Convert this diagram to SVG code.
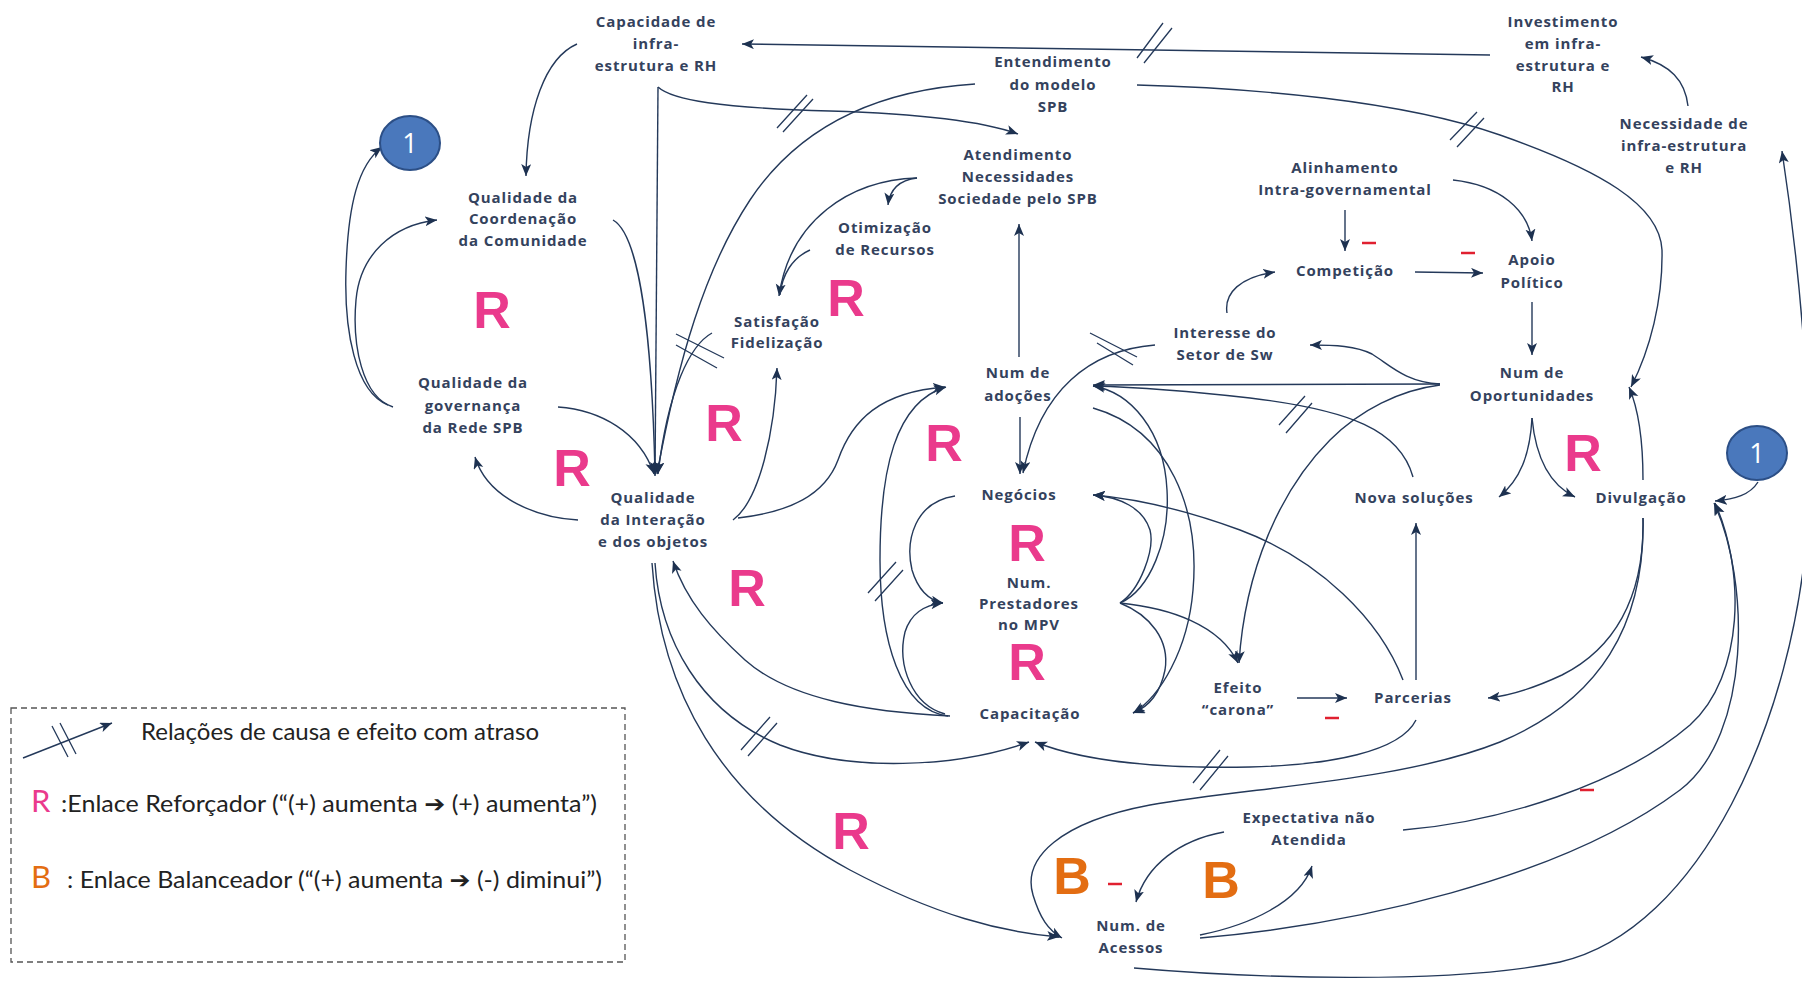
<svg xmlns="http://www.w3.org/2000/svg" width="1802" height="981" viewBox="0 0 1802 981">
<defs>
<marker id="ah" markerWidth="13" markerHeight="11" refX="12" refY="5" orient="auto" markerUnits="userSpaceOnUse">
<path d="M0,0 L12,5 L0,10 L3,5 z" fill="#1d3150"/>
</marker>
<style>
.t{font-family:"Open Sans","DejaVu Sans",sans-serif;font-weight:700;font-size:15px;letter-spacing:0.9px;fill:#34425d;text-anchor:middle}
.c{fill:none;stroke:#24395a;stroke-width:1.4}
.a{marker-end:url(#ah)}
.d{fill:none;stroke:#24395a;stroke-width:1.3}
.R{font-family:"Liberation Sans",Arial,sans-serif;font-weight:bold;font-size:52px;fill:#ea3a8c;text-anchor:middle}
.B{font-family:"Liberation Sans",Arial,sans-serif;font-weight:bold;font-size:52px;fill:#e36d12;text-anchor:middle}
.m{stroke:#e02030;stroke-width:2.5}
.lg{font-family:Lato,"Liberation Sans","DejaVu Sans",sans-serif;font-size:23px;fill:#222}
.one{fill:#4a78bc;stroke:#2c4f86;stroke-width:2}
.onet{font-family:"Open Sans",sans-serif;font-size:27px;fill:#fff;text-anchor:middle}
</style>
</defs>
<rect width="1802" height="981" fill="#fff"/>

<g id="connectors">
<path class="c a" d="M1490,55 L742,44"/>
<path class="c a" d="M577,44 C545,58 527,110 526,176"/>
<path class="c a" d="M658,87 L655,476"/>
<path class="c a" d="M658,87 C672,100 720,108 830,111 C930,114 985,122 1018,134"/>
<path class="c a" d="M975,84 C880,90 800,125 750,200 C705,268 678,360 657,474"/>
<path class="c a" d="M613,220 C640,235 652,340 655,474"/>
<path class="c a" d="M712,333 C690,345 668,390 658,474"/>
<path class="c a" d="M558,407 C600,410 640,432 654,474"/>
<path class="c a" d="M578,520 C540,518 488,500 475,457"/>
<path class="c a" d="M393,407 C362,397 352,345 356,300 C360,255 392,225 437,220"/>
<path class="c a" d="M388,405 C355,392 344,330 346,270 C348,205 358,165 382,147"/>
<path class="c a" d="M733,520 C760,500 775,430 777,368"/>
<path class="c a" d="M738,518 C790,512 825,495 838,460 C852,420 880,392 945,387"/>
<path class="c a" d="M917,178 C850,180 790,220 779,296"/>
<path class="c" d="M810,250 C792,258 782,275 780,295"/>
<path class="c a" d="M917,178 C900,180 890,188 888,205"/>
<path class="c a" d="M1019,357 L1019,224"/>
<path class="c a" d="M1020,417 L1020,474"/>
<path class="c a" d="M1155,345 C1090,350 1040,390 1023,473"/>
<path class="c a" d="M1227,313 C1224,293 1240,277 1275,272"/>
<path class="c a" d="M1345,210 L1345,251"/>
<path class="c a" d="M1453,180 C1500,185 1528,210 1532,241"/>
<path class="c a" d="M1415,272 L1483,273"/>
<path class="c a" d="M1532,302 L1532,355"/>
<path class="c a" d="M1440,384 L1093,385"/>
<path class="c a" d="M1440,384 C1405,382 1390,365 1372,354 C1356,346 1335,345 1310,345"/>
<path class="c a" d="M1532,418 C1530,455 1520,480 1499,497"/>
<path class="c a" d="M1532,418 C1536,460 1550,485 1575,497"/>
<path class="c a" d="M1643,480 C1643,440 1638,408 1629,387"/>
<path class="c a" d="M1137,85 C1250,88 1400,100 1500,135 C1600,170 1660,205 1662,250 C1663,300 1650,350 1631,387"/>
<path class="c a" d="M1688,106 C1685,80 1670,65 1641,57"/>
<path class="c a" d="M1134,968 C1250,978 1450,985 1560,962 C1700,930 1795,720 1808,520 C1813,400 1797,250 1782,151"/>
<path class="c a" d="M1200,938 C1350,925 1560,880 1680,790 C1752,735 1750,580 1714,503"/>
<path class="c a" d="M1403,830 C1500,822 1620,785 1690,725 C1745,675 1745,570 1715,503"/>
<path class="c a" d="M1758,482 C1750,495 1735,499 1715,501"/>
<path class="c a" d="M1643,518 C1645,600 1612,650 1562,675 C1530,690 1507,696 1488,698"/>
<path class="c a" d="M1643,518 C1645,625 1600,700 1500,742 C1400,782 1250,787 1150,805 C1060,822 1022,858 1033,895 C1040,918 1048,930 1062,938"/>
<path class="c a" d="M1416,720 C1400,752 1330,765 1250,767 C1150,769 1080,760 1035,742"/>
<path class="c a" d="M655,563 C660,640 700,712 780,745 C850,772 955,768 1029,742"/>
<path class="c a" d="M950,716 C870,712 790,700 745,660 C712,630 686,600 673,561"/>
<path class="c a" d="M652,563 C660,690 720,800 850,870 C935,915 1000,932 1059,937"/>
<path class="c a" d="M1200,935 C1250,925 1300,902 1312,866"/>
<path class="c a" d="M1224,832 C1180,840 1146,865 1136,902"/>
<path class="c a" d="M955,496 C915,502 905,540 912,570 C918,590 928,600 943,603"/>
<path class="c a" d="M945,714 C912,705 897,665 905,632 C911,613 924,605 943,603"/>
<path class="c a" d="M948,716 C900,710 880,640 880,560 C880,470 895,402 946,387"/>
<path class="c a" d="M1120,603 C1150,590 1170,540 1167,490 C1164,430 1130,392 1093,386"/>
<path class="c a" d="M1120,603 C1140,590 1155,550 1150,530 C1143,508 1120,497 1093,495"/>
<path class="c a" d="M1120,603 C1150,615 1170,640 1165,670 C1160,695 1148,707 1133,713"/>
<path class="c a" d="M1120,603 C1170,608 1220,625 1238,663"/>
<path class="c a" d="M1093,408 C1170,430 1200,510 1193,590 C1188,650 1160,697 1133,713"/>
<path class="c a" d="M1440,385 C1400,390 1360,410 1330,440 C1280,490 1245,570 1239,663"/>
<path class="c a" d="M1403,680 C1380,620 1320,560 1240,530 C1180,508 1130,498 1093,495"/>
<path class="c a" d="M1413,477 C1400,430 1350,410 1250,398 C1180,390 1130,387 1093,386"/>
<path class="c a" d="M1297,698 L1347,698"/>
<path class="c a" d="M1416,680 L1416,523"/>
</g>

<g id="delays">
<path class="d" d="M1137,58 L1163,23 M1144,63 L1172,28"/>
<path class="d" d="M777,128 L807,95 M783,132 L813,99"/>
<path class="d" d="M676,334 L724,358 M676,345 L717,368"/>
<path class="d" d="M1450,140 L1477,112 M1457,147 L1484,118"/>
<path class="d" d="M1090,333 L1137,357 M1097,343 L1133,365"/>
<path class="d" d="M1279,425 L1305,396 M1286,433 L1312,403"/>
<path class="d" d="M868,593 L896,562 M875,601 L903,570"/>
<path class="d" d="M741,750 L770,717 M748,756 L777,723"/>
<path class="d" d="M1193,783 L1220,750 M1200,790 L1228,756"/>
</g>

<g id="minus">
<line class="m" x1="1362" y1="243" x2="1376" y2="243"/>
<line class="m" x1="1461" y1="253" x2="1475" y2="253"/>
<line class="m" x1="1325" y1="718" x2="1339" y2="718"/>
<line class="m" x1="1580" y1="790" x2="1594" y2="790"/>
<line class="m" x1="1108" y1="884" x2="1122" y2="884"/>
</g>

<g id="loops">
<text class="R" x="492" y="328">R</text>
<text class="R" x="846" y="316">R</text>
<text class="R" x="724" y="441">R</text>
<text class="R" x="572" y="486">R</text>
<text class="R" x="944" y="461">R</text>
<text class="R" x="1027" y="561">R</text>
<text class="R" x="1583" y="471">R</text>
<text class="R" x="747" y="606">R</text>
<text class="R" x="1027" y="680">R</text>
<text class="R" x="851" y="849">R</text>
<text class="B" x="1072" y="894">B</text>
<text class="B" x="1221" y="898">B</text>
</g>

<g id="n-cap"><text class="t"><tspan x="656" y="27">Capacidade de</tspan><tspan x="656" y="49">infra-</tspan><tspan x="656" y="71">estrutura e RH</tspan></text></g>
<g id="n-ent"><text class="t"><tspan x="1053" y="67">Entendimento</tspan><tspan x="1053" y="90">do modelo</tspan><tspan x="1053" y="112">SPB</tspan></text></g>
<g id="n-inv"><text class="t"><tspan x="1563" y="27">Investimento</tspan><tspan x="1563" y="49">em infra-</tspan><tspan x="1563" y="71">estrutura e</tspan><tspan x="1563" y="92">RH</tspan></text></g>
<g id="n-nec"><text class="t"><tspan x="1684" y="129">Necessidade de</tspan><tspan x="1684" y="151">infra-estrutura</tspan><tspan x="1684" y="173">e RH</tspan></text></g>
<g id="n-ate"><text class="t"><tspan x="1018" y="160">Atendimento</tspan><tspan x="1018" y="182">Necessidades</tspan><tspan x="1018" y="204">Sociedade pelo SPB</tspan></text></g>
<g id="n-ali"><text class="t"><tspan x="1345" y="173">Alinhamento</tspan><tspan x="1345" y="195">Intra-governamental</tspan></text></g>
<g id="n-coo"><text class="t"><tspan x="523" y="203">Qualidade da</tspan><tspan x="523" y="224">Coordenação</tspan><tspan x="523" y="246">da Comunidade</tspan></text></g>
<g id="n-oti"><text class="t"><tspan x="885" y="233">Otimização</tspan><tspan x="885" y="255">de Recursos</tspan></text></g>
<g id="n-com"><text class="t" x="1345" y="276">Competição</text></g>
<g id="n-apo"><text class="t"><tspan x="1532" y="265">Apoio</tspan><tspan x="1532" y="288">Político</tspan></text></g>
<g id="n-sat"><text class="t"><tspan x="777" y="327">Satisfação</tspan><tspan x="777" y="348">Fidelização</tspan></text></g>
<g id="n-int"><text class="t"><tspan x="1225" y="338">Interesse do</tspan><tspan x="1225" y="360">Setor de Sw</tspan></text></g>
<g id="n-ado"><text class="t"><tspan x="1018" y="378">Num de</tspan><tspan x="1018" y="401">adoções</tspan></text></g>
<g id="n-opo"><text class="t"><tspan x="1532" y="378">Num de</tspan><tspan x="1532" y="401">Oportunidades</tspan></text></g>
<g id="n-gov"><text class="t"><tspan x="473" y="388">Qualidade da</tspan><tspan x="473" y="411">governança</tspan><tspan x="473" y="433">da Rede SPB</tspan></text></g>
<g id="n-qi"><text class="t"><tspan x="653" y="503">Qualidade</tspan><tspan x="653" y="525">da Interação</tspan><tspan x="653" y="547">e dos objetos</tspan></text></g>
<g id="n-neg"><text class="t" x="1019" y="500">Negócios</text></g>
<g id="n-nov"><text class="t" x="1414" y="503">Nova soluções</text></g>
<g id="n-div"><text class="t" x="1641" y="503">Divulgação</text></g>
<g id="n-pre"><text class="t"><tspan x="1029" y="588">Num.</tspan><tspan x="1029" y="609">Prestadores</tspan><tspan x="1029" y="630">no MPV</tspan></text></g>
<g id="n-capa"><text class="t" x="1030" y="719">Capacitação</text></g>
<g id="n-efe"><text class="t"><tspan x="1238" y="693">Efeito</tspan><tspan x="1238" y="715">“carona”</tspan></text></g>
<g id="n-par"><text class="t" x="1413" y="703">Parcerias</text></g>
<g id="n-exp"><text class="t"><tspan x="1309" y="823">Expectativa não</tspan><tspan x="1309" y="845">Atendida</tspan></text></g>
<g id="n-ace"><text class="t"><tspan x="1131" y="931">Num. de</tspan><tspan x="1131" y="953">Acessos</tspan></text></g>
<g id="n-one-left"><ellipse class="one" cx="410" cy="143" rx="30" ry="27"/><text class="onet" x="410" y="153">1</text></g>
<g id="n-one-right"><ellipse class="one" cx="1757" cy="453" rx="30" ry="27"/><text class="onet" x="1757" y="463">1</text></g>

<g id="legend">
<rect x="11" y="708" width="614" height="254" fill="none" stroke="#555" stroke-width="1.3" stroke-dasharray="6,4"/>
<path class="c a" d="M23,758 L112,723"/>
<path class="d" d="M52,726 L68,757 M60,723 L76,754"/>
<text class="lg" x="141" y="740" textLength="398" lengthAdjust="spacingAndGlyphs">Relações de causa e efeito com atraso</text>
<text x="31" y="812" style="font-family:Lato,'Liberation Sans',sans-serif;font-size:31px;fill:#ea3a8c">R</text>
<text class="lg" x="61" y="812" textLength="536" lengthAdjust="spacingAndGlyphs">:Enlace Reforçador (“(+) aumenta <tspan style="font-family:'DejaVu Sans';font-weight:bold">➔</tspan> (+) aumenta”)</text>
<text x="31" y="888" style="font-family:Lato,'Liberation Sans',sans-serif;font-size:31px;fill:#e36d12">B</text>
<text class="lg" x="67" y="888" textLength="535" lengthAdjust="spacingAndGlyphs">: Enlace Balanceador (“(+) aumenta <tspan style="font-family:'DejaVu Sans';font-weight:bold">➔</tspan> (-) diminui”)</text>
</g>
</svg>
